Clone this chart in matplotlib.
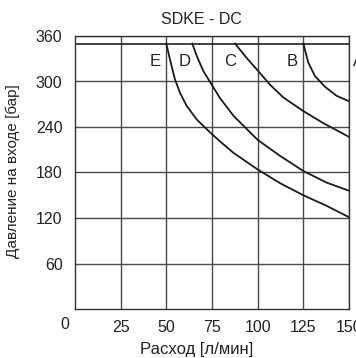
import matplotlib
matplotlib.use("Agg")
import matplotlib.pyplot as plt
from matplotlib import font_manager

names = {f.name for f in font_manager.fontManager.ttflist}
fam = ['Liberation Sans Narrow'] if 'Liberation Sans Narrow' in names else ['Liberation Sans']
plt.rcParams['font.family'] = fam + ['DejaVu Sans']

# Data (flow l/min, pressure bar)
flow_ED = [50, 52, 54.7, 57.5, 61.1, 66.6, 73.9, 79.4, 86.7, 100, 112.2, 125, 137.8, 150]
pres_ED = [350, 329, 303, 285, 268, 250, 233, 221, 206, 184, 166, 150, 136, 121]
flow_DC = [64.2, 66.6, 70.2, 74.8, 79.4, 86.7, 95.8, 100, 112.2, 125, 137.8, 150]
pres_DC = [350, 334, 314, 296, 278, 255, 233, 223, 202, 182, 166.6, 156]
flow_CB = [87.6, 94, 99.5, 106.7, 114, 125, 136, 150]
pres_CB = [350, 331, 316, 296, 279, 261, 245, 227]
flow_BA = [125, 127.7, 131.4, 136.9, 143.3, 150]
pres_BA = [350, 325, 307, 293, 281, 274]

zone_labels = ['E', 'D', 'C', 'B', 'A']
zone_x = [43.8, 60.2, 84.9, 118.8, 152.2]
zone_y = 326

max_pressure = 350
x_ticks = [25, 50, 75, 100, 125, 150]
y_ticks = [60, 120, 180, 240, 300, 360]

fig = plt.figure(figsize=(3.56, 3.58), dpi=100)
ax = fig.add_axes([75/356, 1-309/358, 274/356, 273/358])
ax.set_xlim(0, 150)
ax.set_ylim(0, 360)

ax.set_xticks(x_ticks)
ax.set_yticks(y_ticks)
ax.grid(True, color='#4a4a4a', lw=1.0)
ax.tick_params(length=0, labelsize=11.5, pad=9, colors='#222')
ax.tick_params(axis='x', pad=8)
for s in ax.spines.values():
    s.set_color('#333')
    s.set_linewidth(1.0)

ax.axhline(max_pressure, color='#222', lw=1.2)

for fx, py in [(flow_ED, pres_ED), (flow_DC, pres_DC), (flow_CB, pres_CB), (flow_BA, pres_BA)]:
    ax.plot(fx, py, color='#1a1a1a', lw=1.3, clip_on=False, solid_joinstyle='round')

for lab, x in zip(zone_labels, zone_x):
    ax.text(x, zone_y, lab, ha='center' if lab != 'A' else 'left', va='center',
            fontsize=12, color='#222', clip_on=False)

ax.text(-5.5, -10, '0', transform=ax.transData, ha='center', va='top',
        fontsize=11.5, color='#222')

ax.set_xlabel('Расход [л/мин]', fontsize=12, color='#222')
ax.xaxis.set_label_coords((196.5-75)/274, -33/273)
ax.set_ylabel('Давление на входе [бар]', fontsize=11, color='#222')
ax.yaxis.set_label_coords((20-75)/274, (309-171.5)/273)

fig.text(201/356, 1-20/358, 'SDKE - DC', ha='center', va='center', fontsize=11.5, color='#222')

fig.savefig('out.png', dpi=100)
